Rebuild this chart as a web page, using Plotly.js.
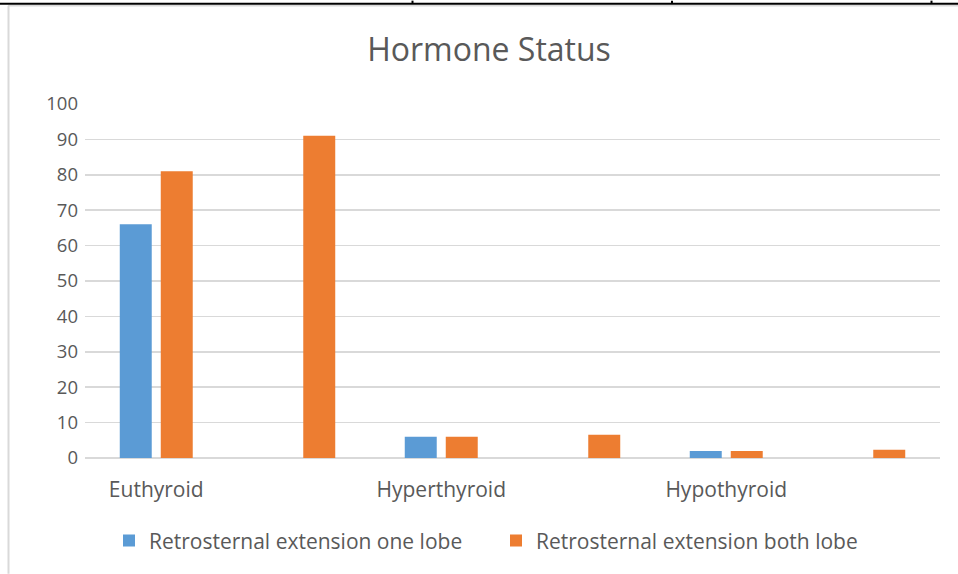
<!DOCTYPE html>
<html>
<head>
<meta charset="utf-8">
<script src="https://cdn.plot.ly/plotly-3.0.1.min.js"></script>
<style>
  html, body { margin: 0; padding: 0; background: #ffffff; }
  #chart { width: 958px; height: 574px; }
</style>
</head>
<body>
<div id="chart"></div>
<script>
// Categories (every other slot is an unlabelled category in the source chart)
const categoryLabels = ["Euthyroid", "", "Hyperthyroid", "", "Hypothyroid", ""];
const seriesNames = ["Retrosternal extension one lobe", "Retrosternal extension both lobe"];
const oneLobe  = [66, null, 6, null, 2, null];
const bothLobe = [81, 91, 6, 6.6, 2, 2.3];
const yTicks = [0, 10, 20, 30, 40, 50, 60, 70, 80, 90, 100];

const W = 958, H = 574;
const M = { l: 85, r: 18, t: 103.5, b: 116 };
const plotW = W - M.l - M.r, plotH = H - M.t - M.b;
const px = x => (x - M.l) / plotW;
const py = y => (H - M.b - y) / plotH;

const xIdx = categoryLabels.map((_, i) => i);
const FONT = "Open Sans, Noto Sans, sans-serif";
const GRAY = "#595959";

const traces = [
  { type: "bar", name: seriesNames[0], x: xIdx, y: oneLobe,
    marker: { color: "#5B9BD5" }, hoverinfo: "y" },
  { type: "bar", name: seriesNames[1], x: xIdx, y: bothLobe,
    marker: { color: "#ED7D31" }, hoverinfo: "y" }
];

const shapes = [
  // document table borders surrounding the chart
  { type: "line", xref: "paper", yref: "paper", x0: px(0), x1: px(958), y0: py(3), y1: py(3), line: { color: "#000000", width: 2 } },
  { type: "line", xref: "paper", yref: "paper", x0: px(412.5), x1: px(412.5), y0: py(0), y1: py(3), line: { color: "#000000", width: 2 } },
  { type: "line", xref: "paper", yref: "paper", x0: px(672), x1: px(672), y0: py(0), y1: py(3), line: { color: "#000000", width: 2 } },
  { type: "line", xref: "paper", yref: "paper", x0: px(931.5), x1: px(931.5), y0: py(0), y1: py(3), line: { color: "#000000", width: 2 } },
  { type: "line", xref: "paper", yref: "paper", x0: px(8), x1: px(958), y0: py(5), y1: py(5), line: { color: "#D9D9D9", width: 1.5 } },
  { type: "line", xref: "paper", yref: "paper", x0: px(8.5), x1: px(8.5), y0: py(5), y1: py(574), line: { color: "#D9D9D9", width: 2 } }
];

const layout = {
  width: W, height: H,
  margin: M,
  paper_bgcolor: "#ffffff", plot_bgcolor: "#ffffff",
  font: { family: FONT, color: GRAY },
  title: { text: "Hormone Status", font: { family: FONT, size: 32, color: GRAY },
           xref: "container", x: 489 / W, xanchor: "center",
           yref: "container", y: 1 - 50 / H, yanchor: "middle" },
  barmode: "group",
  bargap: 0.4246,
  bargroupgap: 0.22,
  xaxis: {
    type: "linear", range: [-0.5, 5.5],
    tickmode: "array", tickvals: [0, 2, 4], ticktext: [categoryLabels[0], categoryLabels[2], categoryLabels[4]],
    tickfont: { family: FONT, size: 21, color: GRAY },
    showgrid: false, zeroline: false, showline: false, ticks: "",
    ticklabelstandoff: 17, fixedrange: true
  },
  yaxis: {
    range: [0, 100], tickmode: "array", tickvals: yTicks, ticktext: yTicks.map(String),
    tickfont: { family: FONT, size: 18.5, color: GRAY },
    showgrid: true, gridcolor: "#D9D9D9", gridwidth: 1.5,
    zeroline: true, zerolinecolor: "#D9D9D9", zerolinewidth: 1.5,
    showline: false, ticks: "", ticklabelstandoff: 6, fixedrange: true
  },
  showlegend: true,
  legend: {
    orientation: "h", x: px(109), xanchor: "left", y: py(541), yanchor: "middle",
    entrywidth: 342, entrywidthmode: "pixels",
    font: { family: FONT, size: 21, color: GRAY }, traceorder: "normal",
    itemclick: false, itemdoubleclick: false
  },
  shapes: shapes
};

Plotly.newPlot("chart", traces, layout, { displayModeBar: false, staticPlot: true });
</script>
</body>
</html>
